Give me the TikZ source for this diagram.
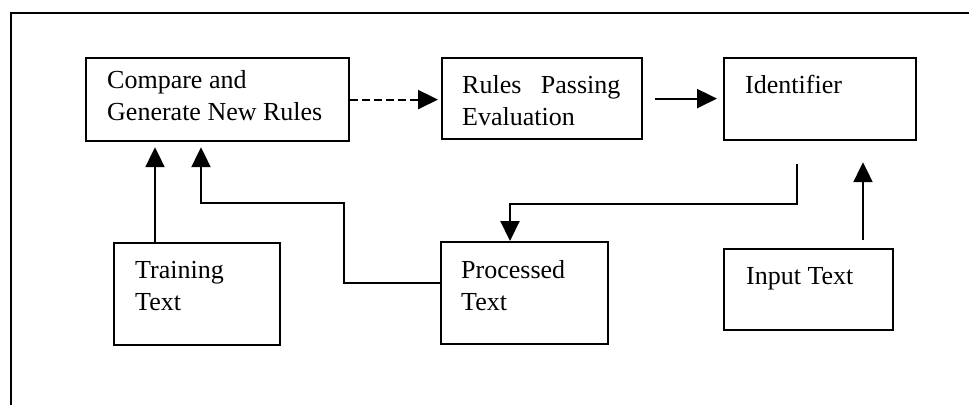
\documentclass[tikz,border=0pt]{standalone}
\usepackage{fontspec}
\setmainfont{Liberation Serif}
\usetikzlibrary{arrows.meta}

\begin{document}
\begin{tikzpicture}[x=1pt,y=-1pt,
  box/.style={draw,line width=2.2pt,anchor=north west,inner sep=0pt},
  lbl/.style={anchor=north west,inner sep=0pt,align=left,font=\fontsize{26}{32}\selectfont},
  arr/.style={line width=2.2pt,-{Triangle[length=20pt,width=19pt]}}]
\useasboundingbox (0,0) rectangle (969,405);

% Frame
\draw[line width=2pt] (11,405) -- (11,13) -- (969,13);

% Boxes
\node[box,minimum width=263pt,minimum height=83pt] (cmp) at (85,57) {};
\node[box,minimum width=200pt,minimum height=81pt] (rules) at (441,57) {};
\node[box,minimum width=192pt,minimum height=82pt] (ident) at (723,57) {};
\node[box,minimum width=166pt,minimum height=102pt] (train) at (113,242) {};
\node[box,minimum width=167pt,minimum height=102pt] (proc) at (440,241) {};
\node[box,minimum width=169pt,minimum height=81pt] (input) at (723,248) {};

% Labels
\node[lbl] (cmplbl) at (107,70) {Compare and\\Generate New Rules};
\node[lbl] (ruleslbl) at (462,75) {Rules\hspace{0.75em}Passing\\Evaluation};
\node[lbl] (identlbl) at (745,75) {Identifier};
\node[lbl] (trainlbl) at (135,261) {Training\\Text};
\node[lbl] (proclbl) at (461,260) {Processed\\Text};
\node[lbl] (inputlbl) at (746,267) {Input Text};

% Connectors
\draw[arr,dash pattern=on 8pt off 4pt,shorten >=3pt] (cmp.east) -- (cmp.east -| rules.west);
\draw[arr,shorten <=12pt,shorten >=6pt] (rules.east) -- (rules.east -| ident.west);

\coordinate (t1) at ([xshift=42pt]train.north west);
\draw[arr,shorten >=5pt] (t1) -- (t1 |- cmp.south);

\coordinate (c2) at ([xshift=116pt]cmp.south west);
\draw[arr,shorten >=5pt] ([yshift=10pt]proc.west) -- ++(-96,0) -- ++(0,-80) -| (c2);

\coordinate (i1) at ([xshift=74pt,yshift=-23pt]ident.south west);
\coordinate (p1) at ([xshift=70pt]proc.north west);
\draw[arr] (i1) -- ++(0,40) -| (p1);

\coordinate (n1) at ([xshift=140pt]input.north west);
\draw[arr,shorten <=8pt,shorten >=21pt] (n1) -- (n1 |- ident.south);
\end{tikzpicture}
\end{document}
